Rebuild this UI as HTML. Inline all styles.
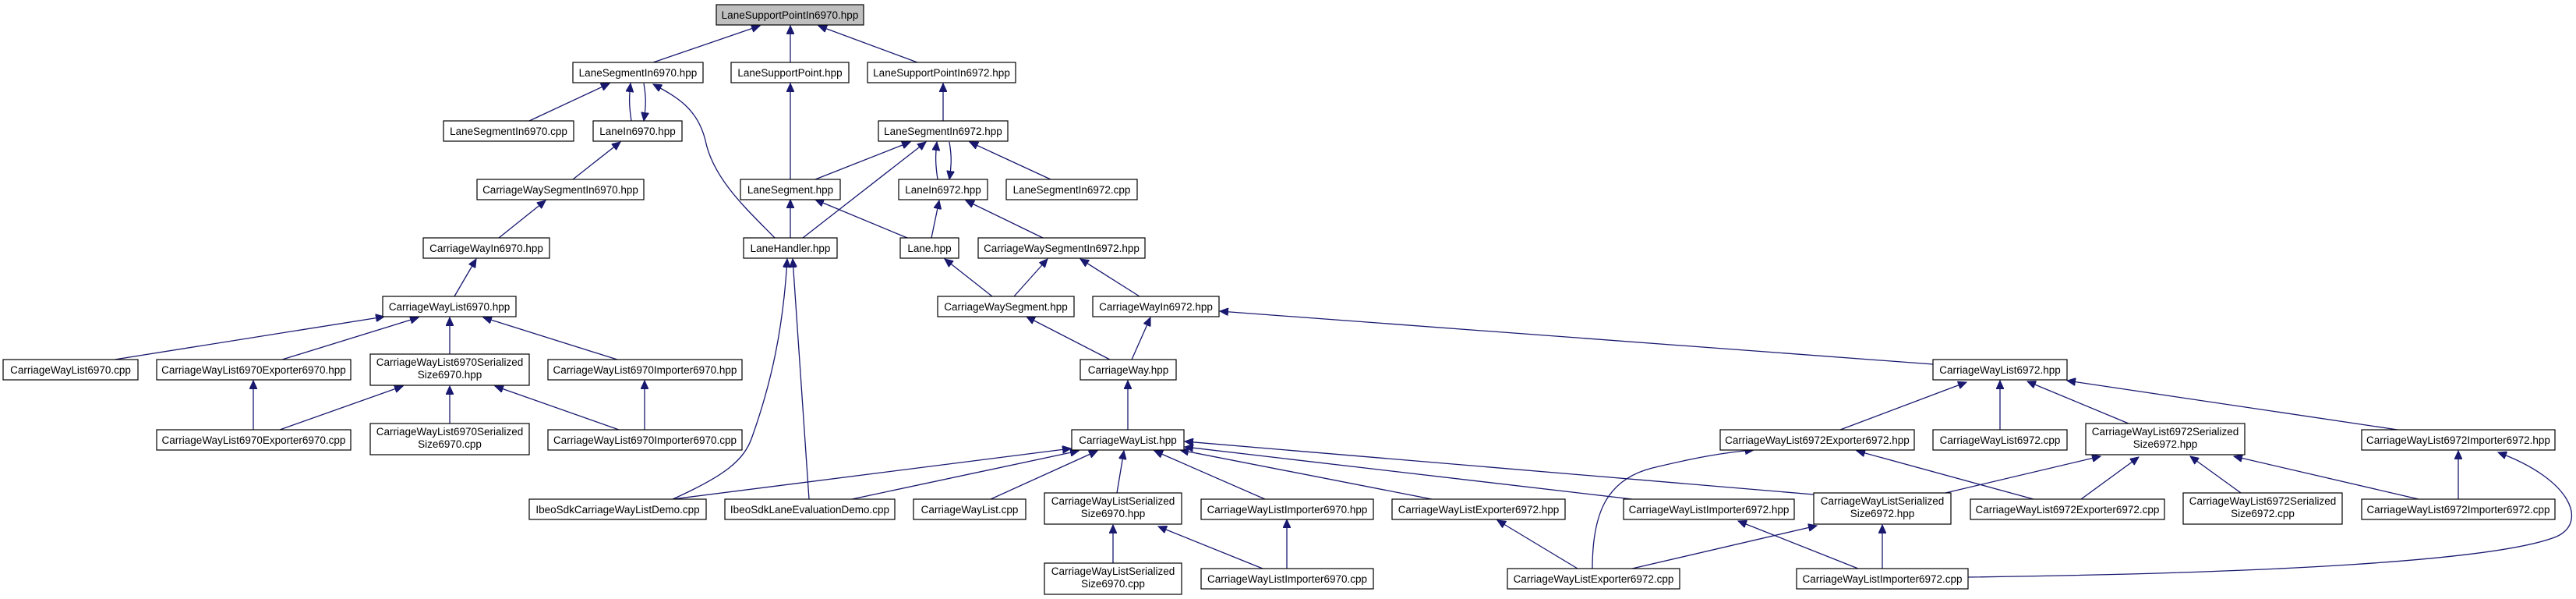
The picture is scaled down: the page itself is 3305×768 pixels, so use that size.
<!DOCTYPE html>
<html><head><meta charset="utf-8"><style>
html,body{margin:0;padding:0;background:#fff;}
svg{display:block;}
text{font-family:"Liberation Sans",Arial,sans-serif;font-size:13.5px;fill:#000;text-anchor:middle;}
.b{fill:#fff;stroke:#000;stroke-width:1.2;}
.e{fill:none;stroke:#191970;stroke-width:1.3;marker-end:url(#ah);}
</style></head><body>
<svg width="3305" height="768" viewBox="0 0 3305 768" xmlns="http://www.w3.org/2000/svg">
<defs><marker id="ah" markerUnits="userSpaceOnUse" markerWidth="12" markerHeight="10" refX="11" refY="5" orient="auto"><path d="M0,0 L11,5 L0,10 Z" fill="#191970" stroke="#191970"/></marker></defs>
<g>
<path class="e" d="M838,80 L975,33"/>
<path class="e" d="M1014,80 L1014,33"/>
<path class="e" d="M1177,80 L1050,33"/>
<path class="e" d="M679,155 L782,107"/>
<path class="e" d="M810,155 C807,135 807,125 809,107"/>
<path class="e" d="M826,107 C829,125 829,135 826,155"/>
<path class="e" d="M994,305 C960,270 915,230 905,180 C895,140 870,125 838,108"/>
<path class="e" d="M1014,230 L1014,107"/>
<path class="e" d="M1210,155 L1210,107"/>
<path class="e" d="M735,230 L796,182"/>
<path class="e" d="M640,305 L700,257"/>
<path class="e" d="M583,380 L611,332"/>
<path class="e" d="M1046,230 L1168,182"/>
<path class="e" d="M1030,305 L1188,182"/>
<path class="e" d="M1203,230 C1200,210 1200,200 1202,182"/>
<path class="e" d="M1218,182 C1221,200 1221,210 1218,230"/>
<path class="e" d="M1348,230 L1244,182"/>
<path class="e" d="M1014,305 L1014,256"/>
<path class="e" d="M1164,305 L1046,256"/>
<path class="e" d="M1195,305 L1205,257"/>
<path class="e" d="M1338,305 L1239,257"/>
<path class="e" d="M1273,380 L1212,332"/>
<path class="e" d="M1301,380 L1344,332"/>
<path class="e" d="M1462,380 L1386,332"/>
<path class="e" d="M1424,461 L1317,406"/>
<path class="e" d="M1452,461 L1476,407"/>
<path class="e" d="M2480,467 L1565,399"/>
<path class="e" d="M1447,551 L1447,488"/>
<path class="e" d="M147,461 L493,406"/>
<path class="e" d="M362,461 L537,407"/>
<path class="e" d="M577,454 L577,407"/>
<path class="e" d="M792,461 L620,407"/>
<path class="e" d="M325,551 L325,488"/>
<path class="e" d="M359,551 L517,495"/>
<path class="e" d="M577,543 L577,495"/>
<path class="e" d="M794,551 L635,495"/>
<path class="e" d="M827,551 L827,488"/>
<path class="e" d="M863,640 C930,610 955,590 965,560 C990,490 1005,420 1010,332"/>
<path class="e" d="M1038,640 L1017,332"/>
<path class="e" d="M863,640 L1374,575"/>
<path class="e" d="M1093,640 L1384,578"/>
<path class="e" d="M1271,640 L1408,578"/>
<path class="e" d="M1433,632 L1442,578"/>
<path class="e" d="M1623,640 L1481,578"/>
<path class="e" d="M1837,640 L1514,577"/>
<path class="e" d="M2094,640 L1520,573"/>
<path class="e" d="M2327,634 L1520,566"/>
<path class="e" d="M1428,722 L1428,673"/>
<path class="e" d="M1620,729 L1486,675"/>
<path class="e" d="M1651,729 L1651,666"/>
<path class="e" d="M2024,729 L1921,667"/>
<path class="e" d="M2043,729 C2043,660 2060,615 2120,600 C2170,588 2210,580 2250,577"/>
<path class="e" d="M2094,729 L2331,674"/>
<path class="e" d="M2384,729 L2230,668"/>
<path class="e" d="M2415,729 L2415,673"/>
<path class="e" d="M2525,740 C2900,735 3200,720 3280,688 C3320,670 3300,615 3205,580"/>
<path class="e" d="M2361,551 L2523,490"/>
<path class="e" d="M2566,551 L2566,488"/>
<path class="e" d="M2731,543 L2601,489"/>
<path class="e" d="M3076,551 L2652,488"/>
<path class="e" d="M2609,640 L2382,578"/>
<path class="e" d="M2670,640 L2744,586"/>
<path class="e" d="M2875,632 L2810,585"/>
<path class="e" d="M3103,640 L2866,585"/>
<path class="e" d="M3154,640 L3154,578"/>
<path class="e" d="M2496,632 L2695,585"/>
</g>
<g>
<rect x="919" y="6" width="189" height="26" fill="#bfbfbf" stroke="#000" stroke-width="1.2"/><text x="1013.5" y="24">LaneSupportPointIn6970.hpp</text>
<rect class="b" x="735" y="80" width="167" height="26"/><text x="818.5" y="98">LaneSegmentIn6970.hpp</text>
<rect class="b" x="938" y="80" width="151" height="26"/><text x="1013.5" y="98">LaneSupportPoint.hpp</text>
<rect class="b" x="1113" y="80" width="190" height="26"/><text x="1208" y="98">LaneSupportPointIn6972.hpp</text>
<rect class="b" x="569" y="155" width="167" height="26"/><text x="652.5" y="173">LaneSegmentIn6970.cpp</text>
<rect class="b" x="761" y="155" width="114" height="26"/><text x="818" y="173">LaneIn6970.hpp</text>
<rect class="b" x="1127" y="155" width="166" height="26"/><text x="1210" y="173">LaneSegmentIn6972.hpp</text>
<rect class="b" x="612" y="230" width="214" height="26"/><text x="719" y="248">CarriageWaySegmentIn6970.hpp</text>
<rect class="b" x="950" y="230" width="128" height="26"/><text x="1014" y="248">LaneSegment.hpp</text>
<rect class="b" x="1153" y="230" width="114" height="26"/><text x="1210" y="248">LaneIn6972.hpp</text>
<rect class="b" x="1291" y="230" width="168" height="26"/><text x="1375" y="248">LaneSegmentIn6972.cpp</text>
<rect class="b" x="543" y="305" width="162" height="26"/><text x="624" y="323">CarriageWayIn6970.hpp</text>
<rect class="b" x="954" y="305" width="120" height="26"/><text x="1014" y="323">LaneHandler.hpp</text>
<rect class="b" x="1155" y="305" width="75" height="26"/><text x="1192.5" y="323">Lane.hpp</text>
<rect class="b" x="1255" y="305" width="214" height="26"/><text x="1362" y="323">CarriageWaySegmentIn6972.hpp</text>
<rect class="b" x="491" y="380" width="171" height="26"/><text x="576.5" y="398">CarriageWayList6970.hpp</text>
<rect class="b" x="1203" y="380" width="175" height="26"/><text x="1290.5" y="398">CarriageWaySegment.hpp</text>
<rect class="b" x="1402" y="380" width="162" height="26"/><text x="1483" y="398">CarriageWayIn6972.hpp</text>
<rect class="b" x="4" y="461" width="173" height="26"/><text x="90.5" y="479">CarriageWayList6970.cpp</text>
<rect class="b" x="201" y="461" width="249" height="26"/><text x="325.5" y="479">CarriageWayList6970Exporter6970.hpp</text>
<rect class="b" x="475" y="454" width="204" height="40"/><text x="577" y="469">CarriageWayList6970Serialized</text><text x="577" y="485">Size6970.hpp</text>
<rect class="b" x="703" y="461" width="249" height="26"/><text x="827.5" y="479">CarriageWayList6970Importer6970.hpp</text>
<rect class="b" x="1386" y="461" width="123" height="26"/><text x="1447.5" y="479">CarriageWay.hpp</text>
<rect class="b" x="2480" y="461" width="172" height="26"/><text x="2566" y="479">CarriageWayList6972.hpp</text>
<rect class="b" x="201" y="551" width="249" height="26"/><text x="325.5" y="569">CarriageWayList6970Exporter6970.cpp</text>
<rect class="b" x="475" y="543" width="204" height="40"/><text x="577" y="558">CarriageWayList6970Serialized</text><text x="577" y="574">Size6970.cpp</text>
<rect class="b" x="703" y="551" width="249" height="26"/><text x="827.5" y="569">CarriageWayList6970Importer6970.cpp</text>
<rect class="b" x="1375" y="551" width="144" height="26"/><text x="1447" y="569">CarriageWayList.hpp</text>
<rect class="b" x="2207" y="551" width="249" height="26"/><text x="2331.5" y="569">CarriageWayList6972Exporter6972.hpp</text>
<rect class="b" x="2480" y="551" width="172" height="26"/><text x="2566" y="569">CarriageWayList6972.cpp</text>
<rect class="b" x="2676" y="543" width="204" height="40"/><text x="2778" y="558">CarriageWayList6972Serialized</text><text x="2778" y="574">Size6972.hpp</text>
<rect class="b" x="3030" y="551" width="248" height="26"/><text x="3154" y="569">CarriageWayList6972Importer6972.hpp</text>
<rect class="b" x="679" y="640" width="227" height="26"/><text x="792.5" y="658">IbeoSdkCarriageWayListDemo.cpp</text>
<rect class="b" x="930" y="640" width="218" height="26"/><text x="1039" y="658">IbeoSdkLaneEvaluationDemo.cpp</text>
<rect class="b" x="1172" y="640" width="144" height="26"/><text x="1244" y="658">CarriageWayList.cpp</text>
<rect class="b" x="1340" y="632" width="176" height="40"/><text x="1428" y="647">CarriageWayListSerialized</text><text x="1428" y="663">Size6970.hpp</text>
<rect class="b" x="1541" y="640" width="221" height="26"/><text x="1651.5" y="658">CarriageWayListImporter6970.hpp</text>
<rect class="b" x="1786" y="640" width="222" height="26"/><text x="1897" y="658">CarriageWayListExporter6972.hpp</text>
<rect class="b" x="2083" y="640" width="219" height="26"/><text x="2192.5" y="658">CarriageWayListImporter6972.hpp</text>
<rect class="b" x="2327" y="632" width="176" height="40"/><text x="2415" y="647">CarriageWayListSerialized</text><text x="2415" y="663">Size6972.hpp</text>
<rect class="b" x="2528" y="640" width="249" height="26"/><text x="2652.5" y="658">CarriageWayList6972Exporter6972.cpp</text>
<rect class="b" x="2801" y="632" width="204" height="40"/><text x="2903" y="647">CarriageWayList6972Serialized</text><text x="2903" y="663">Size6972.cpp</text>
<rect class="b" x="3030" y="640" width="248" height="26"/><text x="3154" y="658">CarriageWayList6972Importer6972.cpp</text>
<rect class="b" x="1340" y="722" width="176" height="40"/><text x="1428" y="737">CarriageWayListSerialized</text><text x="1428" y="753">Size6970.cpp</text>
<rect class="b" x="1541" y="729" width="221" height="26"/><text x="1651.5" y="747">CarriageWayListImporter6970.cpp</text>
<rect class="b" x="1934" y="729" width="221" height="26"/><text x="2044.5" y="747">CarriageWayListExporter6972.cpp</text>
<rect class="b" x="2305" y="729" width="220" height="26"/><text x="2415" y="747">CarriageWayListImporter6972.cpp</text>
</g>
</svg>
</body></html>
